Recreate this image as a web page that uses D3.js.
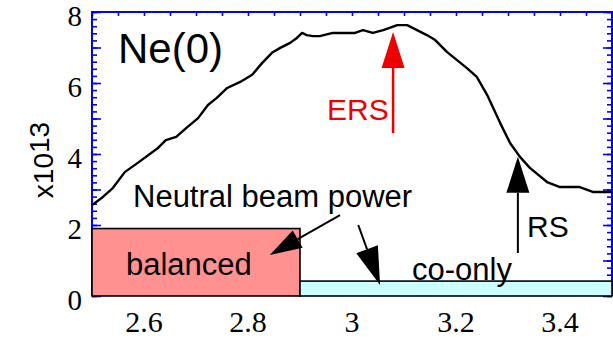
<!DOCTYPE html>
<html>
<head>
<meta charset="utf-8">
<script src="https://cdn.jsdelivr.net/npm/d3@7"></script>
<style>
  body { margin: 0; background: #fff; }
  svg { display: block; }
</style>
</head>
<body>
<script>
// Ne(0) profile (x in m, y in units of 1e13)
const radius = [2.500, 2.521, 2.540, 2.563, 2.588, 2.627, 2.642, 2.662, 2.681, 2.704,
  2.723, 2.740, 2.760, 2.785, 2.808, 2.827, 2.846, 2.862, 2.881, 2.894,
  2.904, 2.913, 2.925, 2.938, 2.963, 3.006, 3.021, 3.040, 3.060, 3.087,
  3.106, 3.125, 3.144, 3.160, 3.183, 3.221, 3.240, 3.260, 3.285, 3.304,
  3.323, 3.342, 3.375, 3.400, 3.438, 3.463, 3.500];
const density = [2.56, 2.79, 3.04, 3.49, 3.75, 4.17, 4.39, 4.48, 4.73, 5.01,
  5.38, 5.58, 5.86, 6.03, 6.23, 6.56, 6.85, 6.99, 7.13, 7.27,
  7.41, 7.35, 7.32, 7.32, 7.41, 7.41, 7.49, 7.41, 7.49, 7.63,
  7.63, 7.49, 7.35, 7.21, 6.87, 6.42, 6.17, 5.66, 4.87, 4.31,
  3.92, 3.61, 3.21, 3.07, 3.07, 2.93, 2.93];

// neutral beam power blocks: [x0, x1, height]
const beamNames = ["balanced", "co-only"];
const beamBlocks = [[2.5, 2.9, 1.9], [2.9, 3.5, 0.42]];
const beamColors = ["#ff9191", "#ccffff"];

// annotation arrows [from, to] in data units
const arrowERS = [[3.079, 4.59], [3.079, 7.44]];
const arrowRS = [[3.319, 1.21], [3.319, 3.92]];
const arrowsBeam = [
  [[2.977, 2.28], [2.842, 1.155]],
  [[3.012, 2.0], [3.054, 0.31]]
];

const xTicks = [2.6, 2.8, 3, 3.2, 3.4];
const yTicks = [0, 2, 4, 6, 8];

const width = 613, height = 339;
const mLeft = 92, mRight = 612, mTop = 12, mBottom = 296;

const svg = d3.select("body").append("svg")
  .attr("width", width)
  .attr("height", height);

const x = d3.scaleLinear().domain([2.5, 3.5]).range([mLeft, mRight]);
const y = d3.scaleLinear().domain([0, 8]).range([mBottom, mTop]);

const serif = '"Liberation Serif"';
const sans = '"Liberation Sans"';
const blue = "#0000ff";

function styleTicks(g) {
  g.select(".domain").remove();
  g.selectAll(".tick line").attr("stroke", blue).attr("stroke-width", 1.6);
  g.selectAll(".tick text").remove();
}

// minor and major y ticks, pointing inward on both sides
const yMinor = d3.range(0, 8.01, 0.2).map(d => +d.toFixed(1));
const yMajor = d3.range(0, 9, 1);
svg.append("g").attr("transform", `translate(${mLeft},0)`)
  .call(d3.axisRight(y).tickValues(yMinor).tickSize(5)).call(styleTicks);
svg.append("g").attr("transform", `translate(${mLeft},0)`)
  .call(d3.axisRight(y).tickValues(yMajor).tickSize(9)).call(styleTicks);
svg.append("g").attr("transform", `translate(${mRight},0)`)
  .call(d3.axisLeft(y).tickValues(yMinor).tickSize(5)).call(styleTicks);
svg.append("g").attr("transform", `translate(${mRight},0)`)
  .call(d3.axisLeft(y).tickValues(yMajor).tickSize(9)).call(styleTicks);

// top ticks every 0.05
const xMinor = d3.range(2.5, 3.501, 0.05).map(d => +d.toFixed(2));
svg.append("g").attr("transform", `translate(0,${mTop})`)
  .call(d3.axisBottom(x).tickValues(xMinor).tickSize(4)).call(styleTicks);

// frame lines (blue)
svg.append("path")
  .attr("d", `M${mLeft},${mBottom}V${mTop}H${mRight}V${mBottom}`)
  .attr("fill", "none")
  .attr("stroke", blue)
  .attr("stroke-width", 2);

// tick labels (serif)
svg.selectAll("text.ylab")
  .data(yTicks)
  .enter()
  .append("text")
    .attr("class", "ylab")
    .attr("x", mLeft - 10)
    .attr("y", d => y(d) + 14)
    .attr("text-anchor", "end")
    .attr("fill", "#000")
    .style("font-family", serif)
    .style("font-size", "29px")
    .text(d => d);

svg.selectAll("text.xlab")
  .data(xTicks)
  .enter()
  .append("text")
    .attr("class", "xlab")
    .attr("x", d => x(d))
    .attr("y", 332)
    .attr("text-anchor", "middle")
    .attr("fill", "#000")
    .style("font-family", serif)
    .style("font-size", "30px")
    .text(d => d);

// y title
const yTitle = svg.append("text")
  .attr("transform", "translate(53,160) rotate(-90)")
  .attr("text-anchor", "middle")
  .style("font-family", sans)
  .style("font-size", "28px");
yTitle.append("tspan").text("x10");
yTitle.append("tspan").attr("dy", -4).text("13");

// profile line
const line = d3.line().x(d => x(d[0])).y(d => y(d[1]));
svg.append("path")
  .datum(d3.zip(radius, density))
  .attr("d", line)
  .attr("fill", "none")
  .attr("stroke", "#000")
  .attr("stroke-width", 2.4)
  .attr("stroke-linejoin", "round");

// beam blocks
svg.selectAll("rect.beam")
  .data(beamBlocks)
  .enter()
  .append("rect")
    .attr("class", "beam")
    .attr("x", d => x(d[0]))
    .attr("y", d => y(d[2]))
    .attr("width", d => x(d[1]) - x(d[0]))
    .attr("height", d => y(0) - y(d[2]))
    .attr("fill", (d, i) => beamColors[i])
    .attr("stroke", "#000")
    .attr("stroke-width", 1.6);

// arrows
function arrow(pts, color, lw, headLen, headW) {
  const [x0, y0] = [x(pts[0][0]), y(pts[0][1])];
  const [x1, y1] = [x(pts[1][0]), y(pts[1][1])];
  const dx = x1 - x0, dy = y1 - y0, L = Math.hypot(dx, dy);
  const ux = dx / L, uy = dy / L;
  const bx = x1 - ux * headLen, by = y1 - uy * headLen;
  svg.append("line")
    .attr("x1", x0).attr("y1", y0).attr("x2", bx).attr("y2", by)
    .attr("stroke", color).attr("stroke-width", lw);
  svg.append("path")
    .attr("d", `M${x1},${y1}L${bx - uy * headW / 2},${by + ux * headW / 2}L${bx + uy * headW / 2},${by - ux * headW / 2}Z`)
    .attr("fill", color);
}
arrow(arrowERS, "#ee0000", 2.5, 36, 23);
arrow(arrowRS, "#000", 2, 36, 23);
arrowsBeam.forEach((a, i) => arrow(a, "#000", 2, i ? 38 : 32, i ? 23 : 20));

// labels
function label(txt, px, py, size, color) {
  svg.append("text")
    .attr("x", px).attr("y", py)
    .style("font-family", sans)
    .style("font-size", size + "px")
    .attr("fill", color || "#000")
    .text(txt);
}
label("Ne(0)", 118, 63, 42);
label("ERS", 327, 120, 30, "#ee0000");
label("RS", 527, 237, 30);
label("Neutral beam power", 133, 207, 31);
label(beamNames[0], 126, 275, 31);
label(beamNames[1], 412, 280, 31);
</script>
</body>
</html>
